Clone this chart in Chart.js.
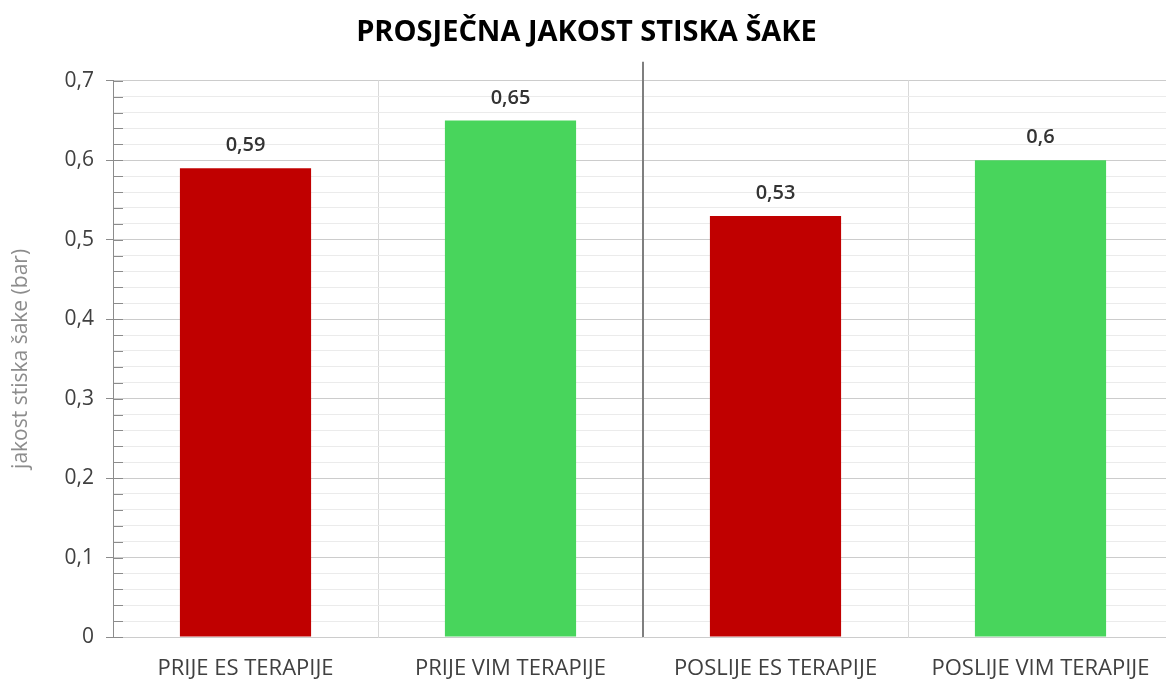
<!DOCTYPE html>
<html lang="hr">
<head>
    <meta charset="UTF-8">
    <title>Prosječna jakost stiska šake</title>
    <script src="https://cdn.jsdelivr.net/npm/chart.js"></script>
    <style>
        html, body { margin: 0; padding: 0; overflow: hidden; background: #fff; }
        #wrap { width: 1173px; height: 686px; }
    </style>
</head>
<body>
    <div id="wrap">
        <canvas id="chart_saka"></canvas>
    </div>

    <script>
        // podaci
        var kategorije = ['PRIJE ES TERAPIJE', 'PRIJE VIM TERAPIJE', 'POSLIJE ES TERAPIJE', 'POSLIJE VIM TERAPIJE'];
        var vrijednosti = [0.59, 0.65, 0.53, 0.6];
        var boje = ['#C00000', '#48D55C', '#C00000', '#48D55C'];
        var naslov = 'PROSJEČNA JAKOST STISKA ŠAKE';
        var osY = 'jakost stiska šake (bar)';

        var font = "'Open Sans', 'Noto Sans', sans-serif";

        function fmt(v) {
            return String(v).replace('.', ',');
        }
        function jeGlavna(v) {
            return Math.round(v * 100) % 10 === 0;
        }

        // oznake iznad stupaca
        var oznake = {
            id: 'oznake',
            afterDatasetsDraw: function (chart) {
                var ctx = chart.ctx;
                var meta = chart.getDatasetMeta(0);
                ctx.save();
                ctx.font = '600 20px ' + font;
                ctx.fillStyle = '#333';
                ctx.textAlign = 'center';
                ctx.textBaseline = 'alphabetic';
                meta.data.forEach(function (bar, i) {
                    ctx.fillText(fmt(vrijednosti[i]), bar.x, bar.y - 17);
                });
                ctx.restore();
            }
        };

        // razdjelnik prije/poslije + male crtice na osi Y
        var razdjelnik = {
            id: 'razdjelnik',
            afterDraw: function (chart) {
                var ctx = chart.ctx;
                var x = chart.scales.x;
                var y = chart.scales.y;
                var area = chart.chartArea;
                var px = (x.getPixelForValue(1) + x.getPixelForValue(2)) / 2;
                ctx.save();
                ctx.strokeStyle = '#7f7f7f';
                ctx.lineWidth = 2;
                ctx.beginPath();
                ctx.moveTo(px, area.top - 19);
                ctx.lineTo(px, area.bottom);
                ctx.stroke();

                ctx.strokeStyle = '#8c8c8c';
                ctx.lineWidth = 1;
                y.ticks.forEach(function (t) {
                    var py = Math.round(y.getPixelForValue(t.value)) + 0.5;
                    ctx.beginPath();
                    ctx.moveTo(area.left, py);
                    ctx.lineTo(area.left + 10, py);
                    ctx.stroke();
                });
                ctx.restore();
            }
        };

        var ctx_saka = document.getElementById('chart_saka').getContext('2d');
        var chart_saka = new Chart(ctx_saka, {
            type: 'bar',
            data: {
                labels: kategorije,
                datasets: [{
                    data: vrijednosti,
                    backgroundColor: boje,
                    categoryPercentage: 0.495,
                    barPercentage: 1
                }]
            },
            options: {
                responsive: true,
                maintainAspectRatio: false,
                animation: false,
                layout: { padding: { left: 0, right: 0, top: 0, bottom: 0 } },
                plugins: {
                    legend: { display: false },
                    tooltip: { enabled: false },
                    title: {
                        display: true,
                        text: naslov,
                        color: '#000',
                        font: { family: font, size: 29, weight: 'bold' },
                        padding: { top: 15, bottom: 31 }
                    }
                },
                scales: {
                    x: {
                        border: { display: false },
                        grid: { color: '#d9d9d9', drawTicks: false, offset: true },
                        afterFit: function (s) { s.height = 49; },
                        ticks: {
                            color: '#404040',
                            font: { family: font, size: 22 },
                            padding: 19,
                            maxRotation: 0,
                            autoSkip: false
                        }
                    },
                    y: {
                        min: 0,
                        max: 0.7,
                        border: { color: '#8c8c8c', width: 1 },
                        afterFit: function (s) { s.width = 113; },
                        grid: {
                            color: function (c) { return jeGlavna(c.tick.value) ? '#cccccc' : '#ebebeb'; },
                            tickColor: function (c) { return jeGlavna(c.tick.value) ? '#8c8c8c' : 'rgba(0,0,0,0)'; },
                            tickLength: 7
                        },
                        ticks: {
                            stepSize: 0.02,
                            maxTicksLimit: 100,
                            autoSkip: false,
                            color: '#404040',
                            font: { family: font, size: 21 },
                            padding: 12,
                            callback: function (v) {
                                if (!jeGlavna(v)) return '';
                                return v === 0 ? '0' : fmt((Math.round(v * 10) / 10).toFixed(1));
                            }
                        },
                        title: {
                            display: true,
                            text: osY,
                            color: '#8c8c8c',
                            font: { family: font, size: 21 },
                            padding: { top: 8, bottom: 0 }
                        }
                    }
                }
            },
            plugins: [oznake, razdjelnik]
        });
    </script>
</body>
</html>
